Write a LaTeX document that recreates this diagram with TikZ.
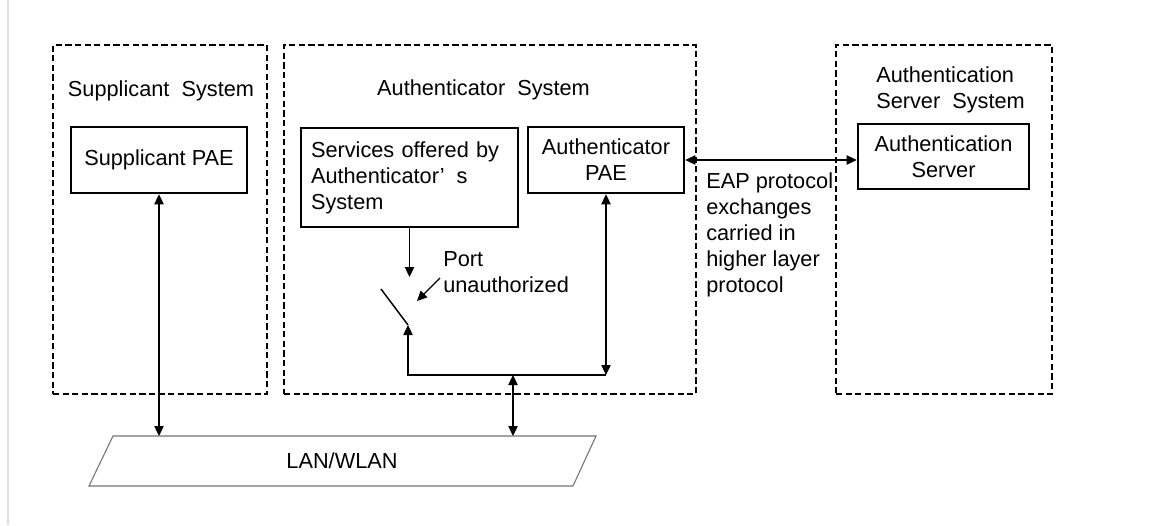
\documentclass[tikz,border=0pt]{standalone}
\usepackage{fontspec}
\setmainfont{Liberation Sans}
\usepackage{tikz}
\usetikzlibrary{positioning}
\usetikzlibrary{arrows.meta}

\tikzset{
    lbl/.style={font=\fontsize{16.3}{19.5}\selectfont, text=black, inner sep=0pt},
    sysbox/.style={draw, line width=1.9pt, dash pattern=on 4.6pt off 2.6pt, minimum height=261.75pt},
    paebox/.style={draw, line width=1.9pt, lbl, align=center},
    link/.style={line width=0.9pt, -{Triangle[length=7.5pt,width=7pt]}},
    dlink/.style={line width=0.9pt, {Triangle[length=7.5pt,width=7pt]}-{Triangle[length=7.5pt,width=7pt]}}
}

\begin{document}
\begin{tikzpicture}[x=0.75pt,y=-0.75pt]
        \useasboundingbox (0,0) rectangle (1151,525);
        \draw[black!12, line width=1.2pt] (8,0) -- (8,525);

        % system borders
        \node[sysbox, minimum width=160.5pt] (supsys) at (160,219.5) {};
        \node[sysbox, minimum width=309pt] (authsys) at (490,219.5) {};
        \node[sysbox, minimum width=162pt] (servsys) at (944,219.5) {};

        \node[lbl] (suptitle) at (161,91) {Supplicant\ \ System};
        \node[lbl] (authtitle) at (483.5,90) {Authenticator\ \ System};
        \node[lbl, align=left, anchor=west] (servtitle) at (876,89.5)
        {Authentication\\Server\ \ System};

        % inner boxes
        \node[paebox, minimum width=132pt, minimum height=49.5pt] (suppae) at (159,160)
        {Supplicant PAE};
        \node[paebox, minimum width=162.75pt, minimum height=74.25pt, text width=147.75pt,
              align=left, inner xsep=7.5pt] (services) at (409.5,177.5)
        {Services offered by\\Authenticator’\hspace{0.55em}s\\System};
        \node[paebox, minimum width=117pt, minimum height=49.5pt] (authpae) at (606,160)
        {Authenticator\\PAE};
        \node[paebox, minimum width=128.25pt, minimum height=48.75pt] (server) at (943.5,156.5)
        {Authentication\\Server};

        \node[lbl, align=left, anchor=west] (eap) at (706,235)
        {EAP protocol\\exchanges\\carried in\\higher layer\\protocol};
        \node[lbl, align=left, anchor=west] (port) at (443,272)
        {Port\\unauthorized};

        % LAN
        \draw[black!55, line width=0.8pt] (113,436) -- (596,436) -- (573,486) -- (89,486) -- cycle;
        \node[lbl] (lan) at (342,461) {LAN/WLAN};
        \coordinate (lantop) at (0,436);

        % port switch
        \coordinate (swin) at (408,277);
        \coordinate (swout) at (408,325);
        \coordinate (swtop) at (381,289);
        \coordinate (jl) at (408,375);
        \coordinate (jm) at (513,375);
        \coordinate (jr) at (606,375);
        \coordinate (ptail) at (440,278);
        \coordinate (ptip) at (417,301);

        \draw[line width=1.1pt] (swtop) -- (swout);
        \draw[link] (services.south) -- (services.south |- swin);
        \draw[link] (jr) -- (jl) -- (swout);
        \draw[dlink] (authpae.south) -- (jr);
        \draw[link] (ptail) -- (ptip);

        % links
        \draw[dlink] (authpae.east) -- (authpae.east -| server.west);
        \draw[dlink] (suppae.south) -- (suppae.south |- lantop);
        \draw[dlink] (jm) -- (jm |- lantop);
    \end{tikzpicture}
\end{document}
